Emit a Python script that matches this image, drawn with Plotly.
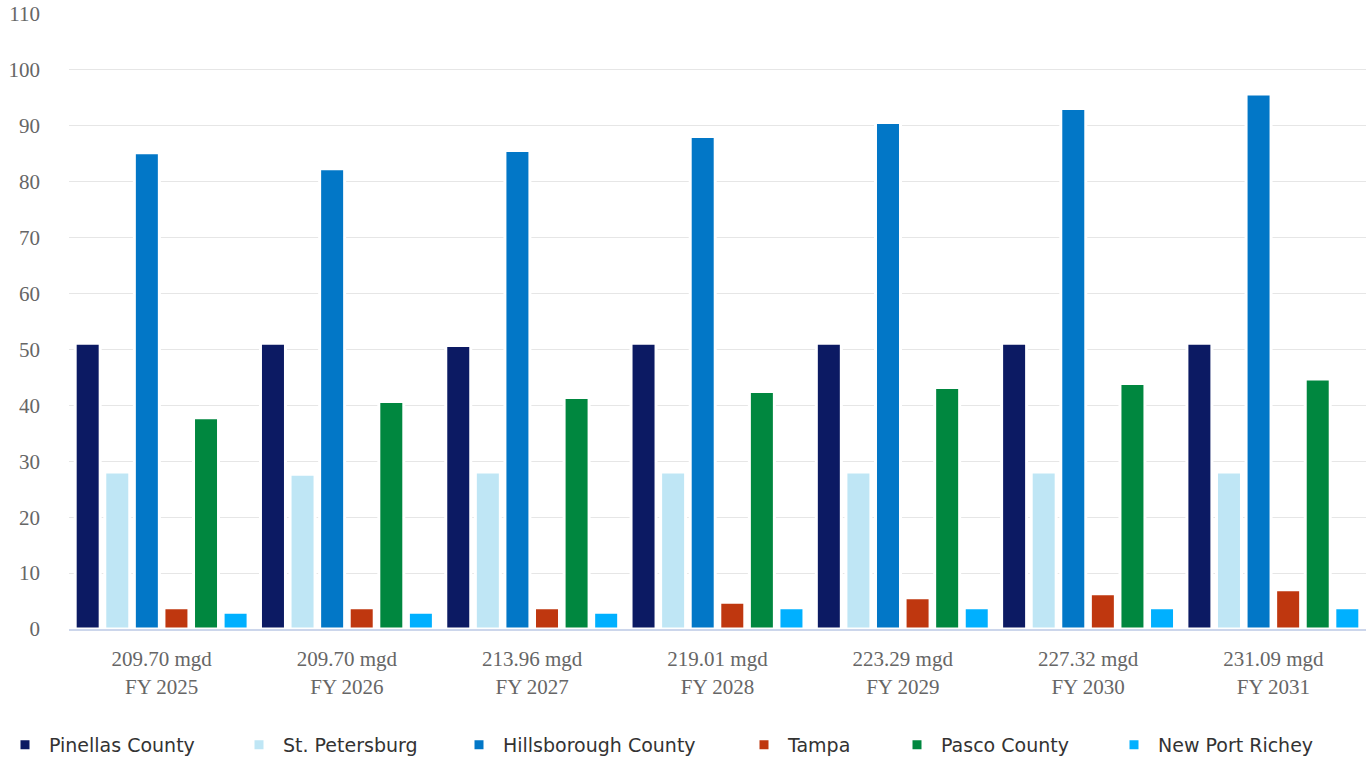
import plotly.graph_objects as go

# ---- data ----
fiscal_years = ["FY 2025", "FY 2026", "FY 2027", "FY 2028", "FY 2029", "FY 2030", "FY 2031"]
total_mgd = ["209.70", "209.70", "213.96", "219.01", "223.29", "227.32", "231.09"]

series_names = ["Pinellas County", "St. Petersburg", "Hillsborough County",
                "Tampa", "Pasco County", "New Port Richey"]
pinellas = [51.1, 51.1, 50.7, 51.1, 51.1, 51.1, 51.1]
st_petersburg = [28.1, 27.7, 28.1, 28.1, 28.1, 28.1, 28.1]
hillsborough = [85.2, 82.3, 85.6, 88.1, 90.6, 93.1, 95.7]
tampa = [3.8, 3.8, 3.8, 4.8, 5.6, 6.3, 7.0]
pasco = [37.8, 40.7, 41.4, 42.5, 43.2, 43.9, 44.7]
new_port_richey = [3.0, 3.0, 3.0, 3.8, 3.8, 3.8, 3.8]

y_ticks = [0, 10, 20, 30, 40, 50, 60, 70, 80, 90, 100, 110]

# ---- style ----
colors = ["#0c1a63", "#bfe6f5", "#0277c7", "#bf370f", "#00873f", "#00b0ff"]
legend_item_steps = [234, 220, 285, 153, 217, 213]
ITEMWIDTH = 38
legend_widths = [s - (ITEMWIDTH + 15) for s in legend_item_steps]

categories = [f"{t} mgd<br>{fy}" for t, fy in zip(total_mgd, fiscal_years)]
values = [pinellas, st_petersburg, hillsborough, tampa, pasco, new_port_richey]

W, H = 1370, 759
ML, MR, MT, MB = 69, 4, 14, 130
plot_w = W - ML - MR
plot_h = H - MT - MB

fig = go.Figure()
for name, vals, col, lw in zip(series_names, values, colors, legend_widths):
    fig.add_trace(go.Bar(
        x=categories, y=vals, name=name,
        marker=dict(color=col, line=dict(color="white", width=3)),
        legendwidth=lw,
    ))

fig.update_layout(
    width=W, height=H,
    margin=dict(l=ML, r=MR, t=MT, b=MB, autoexpand=False),
    paper_bgcolor="white", plot_bgcolor="white",
    barmode="group", bargap=0.042, bargroupgap=0.155,
    showlegend=True,
    legend=dict(
        orientation="h", xref="paper", yref="paper",
        x=(1 - ML) / plot_w, xanchor="left",
        y=-(745 - (H - MB)) / plot_h, yanchor="middle",
        itemwidth=ITEMWIDTH,
        font=dict(family="DejaVu Sans", size=19, color="#333333"),
        bgcolor="rgba(0,0,0,0)", traceorder="normal",
    ),
    xaxis=dict(
        type="category", showgrid=False,
        showline=True, linecolor="#ccd6eb", linewidth=2,
        ticks="", tickfont=dict(family="Liberation Serif", size=21, color="#666666"),
        ticklabelstandoff=10,
    ),
    yaxis=dict(
        range=[0, 110], tickvals=y_ticks,
        showgrid=True, gridcolor="#e6e6e6", gridwidth=1,
        zeroline=False, showline=False, ticks="",
        tickfont=dict(family="Liberation Serif", size=21, color="#666666"),
        ticklabelstandoff=28,
    ),
)

fig.write_html("out.html")
